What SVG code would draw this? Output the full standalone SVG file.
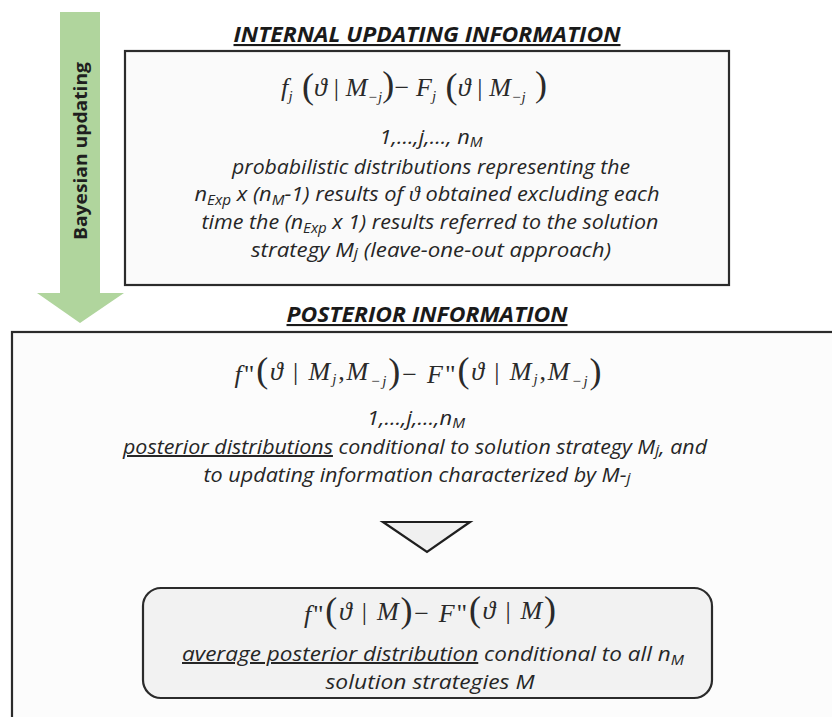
<svg xmlns="http://www.w3.org/2000/svg" width="832" height="717" viewBox="0 0 832 717">
<style>
.box{stroke:#2b2b2b;stroke-width:2.2}
.t{font-family:"Open Sans","Liberation Sans",sans-serif;font-style:italic;font-size:20px;fill:#262626}
.h{font-family:"Open Sans","Liberation Sans",sans-serif;font-style:italic;font-weight:bold;font-size:21px;fill:#1a1a1a;text-decoration:underline}
.m{font-family:"Liberation Serif","DejaVu Serif",serif;font-style:italic;font-size:26px;fill:#2a2a2a}
.p{font-style:normal;font-size:36px}
.u{font-style:normal}
.s{font-size:15px}
.sub{font-size:14px}
.ul{text-decoration:underline}
</style>
<rect width="832" height="717" fill="#ffffff"/>
<g id="connectors">
  <path d="M60,12 H100 V293 H124 L80,323 L37,293 H60 Z" fill="#b0d59d"/>
  <text x="0" y="0" transform="translate(87,151) rotate(-90)" text-anchor="middle" font-family="Open Sans, Liberation Sans, sans-serif" font-weight="bold" font-size="18.5" fill="#1f1f1f" textLength="178" lengthAdjust="spacingAndGlyphs">Bayesian updating</text>
</g>
<g id="internal-updating">
  <text class="h" x="427" y="42" text-anchor="middle" textLength="387" lengthAdjust="spacingAndGlyphs">INTERNAL UPDATING INFORMATION</text>
  <rect class="box" x="125" y="51" width="604" height="234" fill="#fafafa"/>
  <text class="m" x="414" y="96" text-anchor="middle" textLength="266" lengthAdjust="spacing">f<tspan class="s" dy="5">j</tspan><tspan class="p" dy="-3"> (</tspan><tspan dy="-2">ϑ</tspan><tspan class="u"> | </tspan>M<tspan class="s" dy="6">−j</tspan><tspan class="p" dy="-6">)</tspan><tspan class="u">− </tspan>F<tspan class="s" dy="5">j</tspan><tspan class="p" dy="-3"> (</tspan><tspan dy="-2">ϑ</tspan><tspan class="u"> | </tspan>M<tspan class="s" dy="6">−j</tspan><tspan class="p" dy="-6"> )</tspan></text>
  <text class="t" x="431" y="144" text-anchor="middle" textLength="103" lengthAdjust="spacingAndGlyphs">1,…,j,…, n<tspan class="sub" dy="3">M</tspan></text>
  <text class="t" x="431" y="174" text-anchor="middle" textLength="398" lengthAdjust="spacingAndGlyphs">probabilistic distributions representing the</text>
  <text class="t" x="427" y="201" text-anchor="middle" textLength="465" lengthAdjust="spacingAndGlyphs">n<tspan class="sub" dy="4">Exp</tspan><tspan dy="-4"> x (n</tspan><tspan class="sub" dy="4">M</tspan><tspan dy="-4">-1) results of </tspan><tspan font-family="Liberation Serif, DejaVu Serif, serif">ϑ</tspan> obtained excluding each</text>
  <text class="t" x="430" y="229" text-anchor="middle" textLength="457" lengthAdjust="spacingAndGlyphs">time the (n<tspan class="sub" dy="4">Exp</tspan><tspan dy="-4"> x 1) results referred to the solution</tspan></text>
  <text class="t" x="431" y="257" text-anchor="middle" textLength="360" lengthAdjust="spacingAndGlyphs">strategy M<tspan class="s" dy="1">j</tspan><tspan dy="-1">  (leave-one-out approach)</tspan></text>
</g>
<g id="posterior">
  <text class="h" x="427" y="322" text-anchor="middle" textLength="281" lengthAdjust="spacingAndGlyphs">POSTERIOR INFORMATION</text>
  <rect class="box" x="12" y="332" width="840" height="400" fill="#fcfcfc"/>
  <text class="m" x="418" y="383" text-anchor="middle" textLength="367" lengthAdjust="spacing">f<tspan class="u">"</tspan><tspan class="p" dy="-1">(</tspan><tspan dy="-2">ϑ</tspan><tspan class="u"> | </tspan>M<tspan class="s" dy="4">j</tspan><tspan class="u" dy="-4">,</tspan>M<tspan class="s" dy="6">−j</tspan><tspan class="p" dy="-3">)</tspan><tspan class="u">− </tspan>F<tspan class="u">"</tspan><tspan class="p" dy="-1">(</tspan><tspan dy="-2">ϑ</tspan><tspan class="u"> | </tspan>M<tspan class="s" dy="4">j</tspan><tspan class="u" dy="-4">,</tspan>M<tspan class="s" dy="6">−j</tspan><tspan class="p" dy="-3">)</tspan></text>
  <text class="t" x="416" y="425" text-anchor="middle" textLength="98" lengthAdjust="spacingAndGlyphs">1,…,j,…,n<tspan class="sub" dy="3">M</tspan></text>
  <text class="t" x="415" y="454" text-anchor="middle" textLength="584" lengthAdjust="spacingAndGlyphs"><tspan class="ul">posterior distributions</tspan> conditional to solution strategy M<tspan class="s" dy="1">j</tspan><tspan dy="-1">, and</tspan></text>
  <text class="t" x="417" y="482" text-anchor="middle" textLength="427" lengthAdjust="spacingAndGlyphs">to updating information characterized by M-<tspan class="s" dy="1">j</tspan></text>
  <path d="M383,522 H470 L427,552 Z" fill="#f0f0f0" stroke="#1f1f1f" stroke-width="2.2" stroke-linejoin="miter"/>
</g>
<g id="average-posterior">
  <rect class="box" x="143" y="588" width="569" height="110" rx="18" ry="18" fill="#f2f2f2"/>
  <text class="m" x="430" y="623" text-anchor="middle" textLength="252" lengthAdjust="spacing">f<tspan class="u">"</tspan><tspan class="p" dy="-1">(</tspan><tspan dy="-2">ϑ</tspan><tspan class="u"> | </tspan>M<tspan class="p" dy="2">)</tspan><tspan class="u">− </tspan>F<tspan class="u">"</tspan><tspan class="p" dy="-1">(</tspan><tspan dy="-2">ϑ</tspan><tspan class="u"> | </tspan>M<tspan class="p" dy="2">)</tspan></text>
  <text class="t" x="433" y="661" text-anchor="middle" textLength="502" lengthAdjust="spacingAndGlyphs"><tspan class="ul">average posterior distribution</tspan> conditional to all n<tspan class="sub" dy="4">M</tspan></text>
  <text class="t" x="430" y="689" text-anchor="middle" textLength="209" lengthAdjust="spacingAndGlyphs">solution strategies M</text>
</g>
</svg>
